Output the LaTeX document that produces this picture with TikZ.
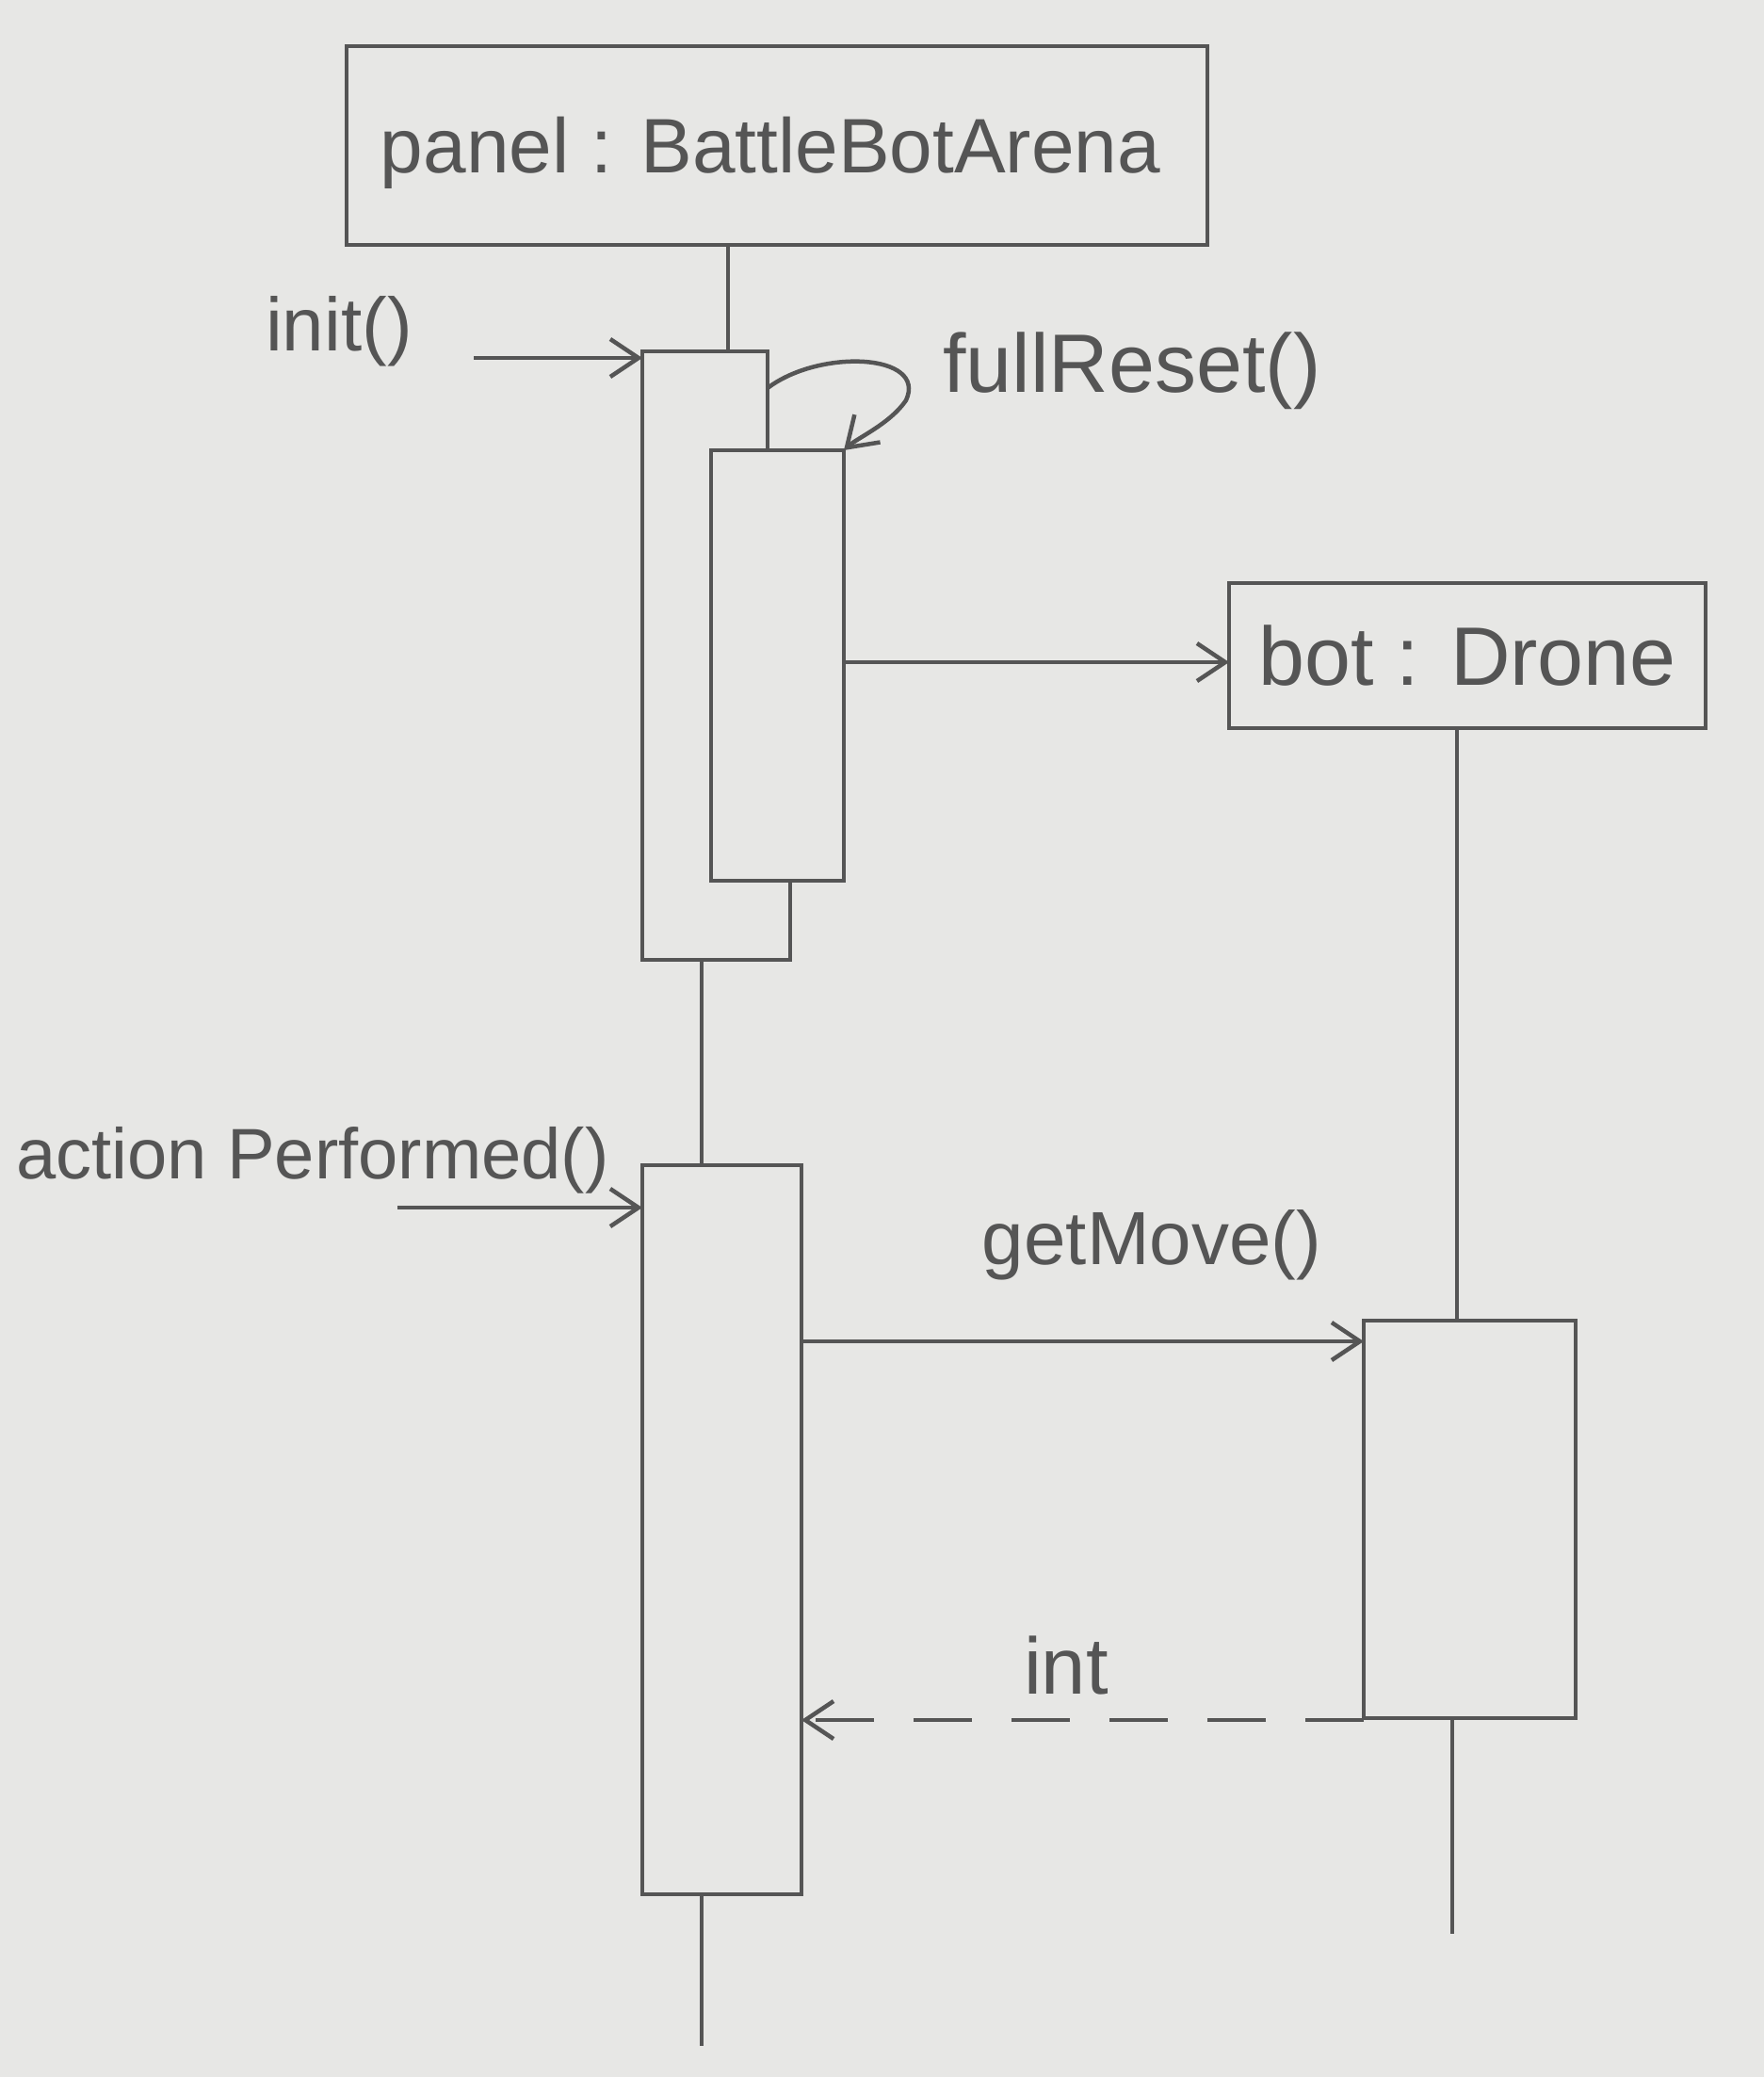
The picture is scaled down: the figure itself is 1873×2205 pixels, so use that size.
\documentclass[tikz,border=0pt]{standalone}
\usepackage{fontspec}
\setmainfont{Liberation Sans}
\usetikzlibrary{arrows.meta}
\definecolor{paper}{HTML}{E7E7E5}
\definecolor{pencil}{HTML}{555555}
\begin{document}
\begin{tikzpicture}[x=1pt,y=-1pt,line width=4.5pt,color=pencil,
  box/.style={draw=pencil,fill=paper,inner sep=0pt,outer sep=0pt,anchor=north west},
  lbl/.style={text=pencil,inner sep=0pt,font=\fontsize{80}{90}\selectfont},
  biglbl/.style={lbl,font=\fontsize{88}{96}\selectfont},
  msg/.style={-{Straight Barb[length=30pt,width=40pt,line width=4.5pt]}},
  ret/.style={msg,dash pattern=on 62pt off 42pt},
  life/.style={line width=4pt}]
\fill[paper] (0,0) rectangle (1873,2205);
\useasboundingbox (0,0) rectangle (1873,2205);

% objects
\node[box,minimum width=914,minimum height=211] (panel) at (368,49) {};
\node[lbl,font=\fontsize{82}{90}\selectfont] (paneltxt) at (818,162) {panel : BattleBotArena};
\node[box,minimum width=506,minimum height=154,biglbl] (bot) at (1305,619) {bot : Drone};

% lifeline coordinates
\coordinate (pl0) at (773,260);
\coordinate (pl1) at (773,373);
\coordinate (pl2) at (745,1019);
\coordinate (pl3) at (745,1237);
\coordinate (pl4) at (745,2011);
\coordinate (pl5) at (745,2172);
\coordinate (dl0) at (1547,773);
\coordinate (dl1) at (1547,1402);
\coordinate (dl2) at (1542,1824);
\coordinate (dl3) at (1542,2053);
\draw[life] (pl0) -- (pl1);
\draw[life] (pl2) -- (pl3);
\draw[life] (pl4) -- (pl5);
\draw[life] (dl0) -- (dl1);
\draw[life] (dl2) -- (dl3);

% activation of init()
\node[anchor=north west,inner sep=0pt,outer sep=0pt,minimum width=157,minimum height=646] (act1) at (682,373) {};
\draw[line join=miter] (815,478) -- (815,373) -- (act1.north west) -- (act1.south west)
  -- (act1.south east) -- (839,935);
\node[box,minimum width=141,minimum height=457] (act1b) at (755,478) {};

% init()
\node[lbl] (init) at (360,352) {init()};
\coordinate (initstart) at (503,380);
\draw[msg] (initstart) -- (initstart -| act1.west);

% fullReset() self call
\node[biglbl] (fr) at (1202,394) {fullReset()};
\coordinate (frstart) at (815,412);
\draw[msg] (frstart) .. controls (870,370) and (985,375) .. (962,425)
  .. controls (945,450) and (910,465) .. (act1b.north east);

% create bot
\coordinate (crstart) at (896,703);
\draw[msg] (crstart) -- (crstart -| bot.west);

% actionPerformed()
\node[box,minimum width=169,minimum height=774] (act2) at (682,1237) {};
\node[lbl,font=\fontsize{76}{84}\selectfont] (ap) at (332,1232) {action Performed()};
\coordinate (apstart) at (422,1282);
\draw[msg] (apstart) -- (apstart -| act2.west);

% getMove()
\node[box,minimum width=225,minimum height=422] (act3) at (1448,1402) {};
\node[lbl] (gm) at (1223,1322) {getMove()};
\coordinate (gmstart) at (851,1424);
\draw[msg] (gmstart) -- (gmstart -| act3.west);

% return int
\node[lbl,font=\fontsize{85}{92}\selectfont] (int) at (1132,1768) {int};
\coordinate (rtstart) at (1448,1826);
\draw[ret] (rtstart) -- (rtstart -| act2.east);
\end{tikzpicture}
\end{document}
